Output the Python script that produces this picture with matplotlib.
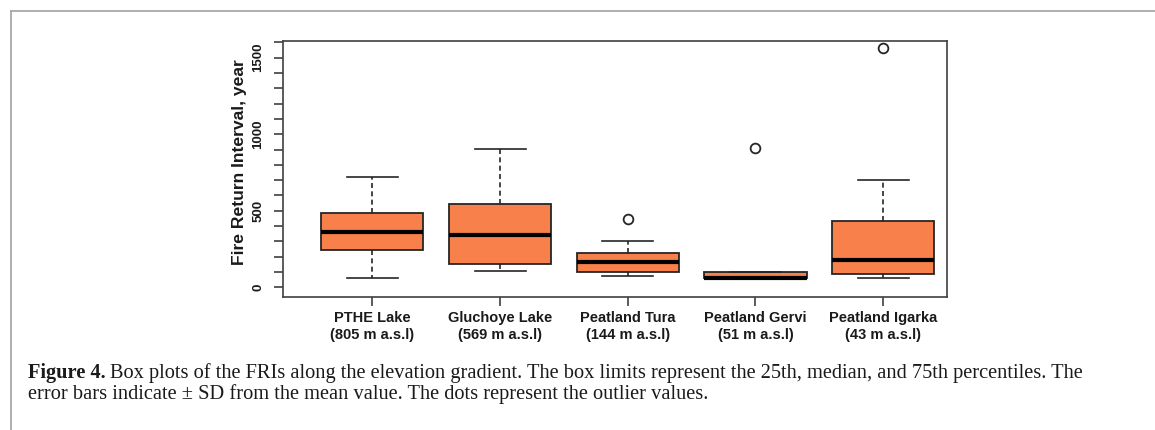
import matplotlib.pyplot as plt
from matplotlib.lines import Line2D

# Box plot statistics (years)
sites = ['PTHE Lake\n(805 m a.s.l)', 'Gluchoye Lake\n(569 m a.s.l)', 'Peatland Tura\n(144 m a.s.l)',
         'Peatland Gervi\n(51 m a.s.l)', 'Peatland Igarka\n(43 m a.s.l)']
whis_lo = [63, 104, 76, 55, 61]
q1 = [241, 150, 102, 60, 89]
median = [361, 342, 163, 60, 180]
q3 = [483, 542, 226, 100, 435]
whis_hi = [722, 901, 302, 100, 701]
outliers = [[], [], [448], [910], [1561]]

BOX_COLOR = '#F8804A'
EDGE = '#262626'

fig = plt.figure(figsize=(11.55, 4.3), dpi=100, facecolor='white')
ax = fig.add_axes([0.2450, 0.3093, 0.5749, 0.5954])

stats = []
for i in range(len(sites)):
    stats.append(dict(whislo=whis_lo[i], q1=q1[i], med=median[i], q3=q3[i],
                      whishi=whis_hi[i], fliers=outliers[i]))

ax.bxp(stats, positions=range(1, len(sites) + 1), widths=0.8, capwidths=0.4,
       patch_artist=True, showfliers=True,
       boxprops=dict(facecolor=BOX_COLOR, edgecolor=EDGE, linewidth=1.3),
       medianprops=dict(color='black', linewidth=3.0, solid_capstyle='butt'),
       whiskerprops=dict(color=EDGE, linewidth=1.2, linestyle=(0, (3, 2))),
       capprops=dict(color=EDGE, linewidth=1.2),
       flierprops=dict(marker='o', markerfacecolor='white', markeredgecolor=EDGE,
                       markersize=7, markeredgewidth=1.3))

ax.set_xlim(0.3, 5.5)
ax.set_ylim(-63, 1609)

for s in ax.spines.values():
    s.set_color('#404040')
    s.set_linewidth(1.2)

ax.set_xticks(range(1, len(sites) + 1))
ax.set_xticklabels(sites, fontfamily='Liberation Sans', fontweight='bold', fontsize=10.5,
                   linespacing=1.25, color='#1a1a1a')
ax.set_yticks(range(0, 1700, 100))
ax.set_yticklabels([str(v) if v % 500 == 0 else '' for v in range(0, 1700, 100)],
                   rotation=90, va='center', fontfamily='Liberation Sans', fontweight='bold',
                   fontsize=9.5, color='#1a1a1a')
ax.tick_params(axis='both', direction='out', length=6.5, width=1.2, color='#404040')
ax.tick_params(axis='y', pad=7)
ax.set_ylabel('Fire Return Interval, year', fontfamily='Liberation Sans', fontweight='bold',
              fontsize=12.6, color='#1a1a1a')
ax.yaxis.set_label_coords(-0.054, 0.525)

# page frame lines
fig.add_artist(Line2D([11 / 1155, 1.0], [1 - 11 / 430, 1 - 11 / 430], color='#a8a8a8', lw=1.3))
fig.add_artist(Line2D([11 / 1155, 11 / 1155], [0.0, 1 - 11 / 430], color='#a8a8a8', lw=1.3))

# caption
cap_x = 28 / 1155
cap_fs = 14.65
bold = fig.text(cap_x, 1 - 373 / 430, 'Figure 4.', fontsize=cap_fs, va='center',
                family='Liberation Serif', fontweight='bold', color='#1a1a1a')
renderer = fig.canvas.get_renderer()
bb = bold.get_window_extent(renderer)
fig.text(bb.x1 / fig.bbox.width + 4 / 1155, 1 - 373 / 430,
         'Box plots of the FRIs along the elevation gradient. The box limits represent the 25th, '
         'median, and 75th percentiles. The', fontsize=cap_fs, va='center', family='Liberation Serif',
         color='#1a1a1a')
fig.text(cap_x, 1 - 394 / 430,
         'error bars indicate \u00b1 SD from the mean value. The dots represent the outlier values.',
         fontsize=cap_fs, va='center', family='Liberation Serif', color='#1a1a1a')

fig.savefig('out.png', dpi=100, facecolor='white')
